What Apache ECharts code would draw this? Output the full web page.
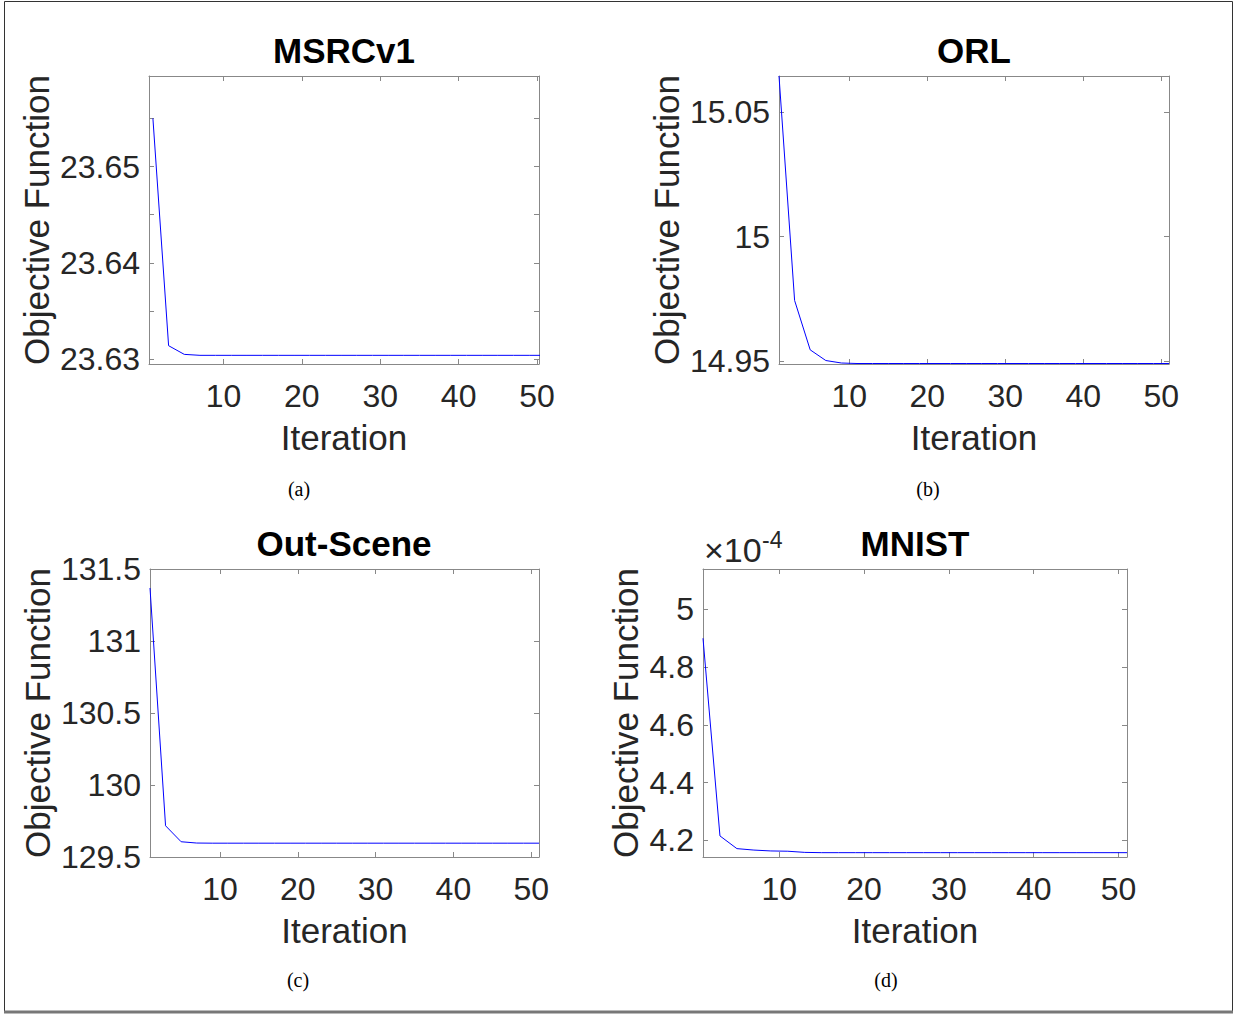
<!DOCTYPE html>
<html><head><meta charset="utf-8">
<script src="https://cdn.jsdelivr.net/npm/echarts@6/dist/echarts.min.js"></script>
<style>html,body{margin:0;padding:0;background:#fff}#c{width:1237px;height:1015px}</style>
</head><body><div id="c"></div>
<script>
// ---------- data ----------
const iterations = [1,3,5,7,9,11,13,15,17,19,21,23,25,27,29,31,33,35,37,39,41,43,45,47,49,51];
const xTickValues = [10,20,30,40,50];

const msrcValues = [23.6550,23.6314,23.6305,23.6304,23.6304,23.6304,23.6304,23.6304,23.6304,23.6304,
  23.6304,23.6304,23.6304,23.6304,23.6304,23.6304,23.6304,23.6304,23.6304,23.6304,
  23.6304,23.6304,23.6304,23.6304,23.6304,23.6304];
const orlValues = [15.0647,14.9743,14.9544,14.9501,14.9491,14.9489,14.9489,14.9489,14.9489,14.9489,
  14.9489,14.9489,14.9489,14.9489,14.9489,14.9489,14.9489,14.9489,14.9489,14.9489,
  14.9489,14.9489,14.9489,14.9489,14.9489,14.9489];
const outSceneValues = [131.368,129.717,129.606,129.597,129.596,129.596,129.596,129.596,129.596,129.596,
  129.596,129.596,129.596,129.596,129.596,129.596,129.596,129.596,129.596,129.596,
  129.596,129.596,129.596,129.596,129.596,129.596];
// MNIST values in units of 1e-4
const mnistValues = [4.900,4.215,4.171,4.166,4.163,4.162,4.158,4.157,4.157,4.157,
  4.157,4.157,4.157,4.157,4.157,4.157,4.157,4.157,4.157,4.157,
  4.157,4.157,4.157,4.157,4.157,4.157];

const msrcYTicks = [23.63,23.635,23.64,23.645,23.65,23.655];
const msrcYLabels = [23.63,23.64,23.65];
const orlYTicks = [14.95,15,15.05];
const outSceneYTicks = [129.5,130,130.5,131,131.5];
const mnistYTicks = [4.2,4.4,4.6,4.8,5];

const titles = ['MSRCv1','ORL','Out-Scene','MNIST'];
const captions = ['(a)','(b)','(c)','(d)'];

// ---------- layout ----------
const FONT = 'Liberation Sans, Arial, Helvetica, sans-serif';
const AX = '#888888';
const TXT = '#262626';
const panels = [
  {grid:{left:149,top:76,width:390,height:288}, xmin:0.5, xmax:50.25, ymin:23.6295, ymax:23.6594,
   yTicks:msrcYTicks, yLabels:msrcYLabels, fmt:v=>v.toFixed(2), values:msrcValues, yGap:95,
   title:[344,50], cap:[299,489]},
  {grid:{left:779,top:76,width:390,height:288}, xmin:1, xmax:51, ymin:14.9487, ymax:15.0647,
   yTicks:orlYTicks, yLabels:orlYTicks, fmt:v=>String(v), values:orlValues, yGap:95,
   title:[974,50], cap:[928,489]},
  {grid:{left:150,top:569,width:389,height:288}, xmin:1, xmax:51, ymin:129.5, ymax:131.5,
   yTicks:outSceneYTicks, yLabels:outSceneYTicks, fmt:v=>String(v), values:outSceneValues, yGap:95,
   title:[344,543], cap:[298,980]},
  {grid:{left:703,top:569,width:424,height:288}, xmin:1, xmax:51, ymin:4.142, ymax:5.14,
   yTicks:mnistYTicks, yLabels:mnistYTicks, fmt:v=>String(v), values:mnistValues, yGap:60,
   title:[915,543], cap:[886,980]}
];

const grid=[], xAxis=[], yAxis=[], series=[], graphic=[];
panels.forEach((p,i)=>{
  grid.push(Object.assign({containLabel:false}, p.grid));
  const line = {show:true,onZero:false,lineStyle:{color:AX,width:1}};
  const tick = (vals)=>({show:true,inside:true,length:5,customValues:vals,lineStyle:{color:AX,width:1}});
  xAxis.push({gridIndex:i,type:'value',position:'bottom',min:p.xmin,max:p.xmax,
    axisLine:line, axisTick:tick(xTickValues), splitLine:{show:false},
    axisLabel:{customValues:xTickValues,margin:16,fontSize:32,color:TXT,fontFamily:FONT},
    name:'Iteration',nameLocation:'middle',nameGap:56,
    nameTextStyle:{fontSize:35,color:TXT,fontFamily:FONT}});
  xAxis.push({gridIndex:i,type:'value',position:'top',min:p.xmin,max:p.xmax,
    axisLine:line, axisTick:tick(xTickValues), splitLine:{show:false}, axisLabel:{show:false}});
  yAxis.push({gridIndex:i,type:'value',position:'left',min:p.ymin,max:p.ymax,
    axisLine:line, axisTick:tick(p.yTicks), splitLine:{show:false},
    axisLabel:{customValues:p.yLabels,formatter:p.fmt,margin:9,fontSize:32,color:TXT,fontFamily:FONT},
    name:'Objective Function',nameLocation:'middle',nameGap:p.yGap,
    nameTextStyle:{fontSize:35,color:TXT,fontFamily:FONT}});
  yAxis.push({gridIndex:i,type:'value',position:'right',min:p.ymin,max:p.ymax,
    axisLine:line, axisTick:tick(p.yTicks), splitLine:{show:false}, axisLabel:{show:false}});
  series.push({type:'line',xAxisIndex:2*i,yAxisIndex:2*i,
    data:iterations.map((x,k)=>[x,p.values[k]]),
    symbol:'none',showSymbol:false,clip:true,
    lineStyle:{color:'#0000ff',width:1}});
  graphic.push({type:'text',x:p.title[0],y:p.title[1],silent:true,
    style:{text:titles[i],align:'center',verticalAlign:'middle',fontSize:35,fontWeight:'bold',fill:'#000',fontFamily:FONT}});
  graphic.push({type:'text',x:p.cap[0],y:p.cap[1],silent:true,
    style:{text:captions[i],align:'center',verticalAlign:'middle',fontSize:20,fill:'#000',fontFamily:'Liberation Serif, Times New Roman, serif'}});
});
// exponent label for MNIST
graphic.push({type:'text',x:704,y:550,silent:true,
  style:{text:'\u00d710',align:'left',verticalAlign:'middle',fontSize:34,fill:TXT,fontFamily:FONT}});
graphic.push({type:'text',x:762,y:540,silent:true,
  style:{text:'-4',align:'left',verticalAlign:'middle',fontSize:23,fill:TXT,fontFamily:FONT}});
// outer frame
graphic.push({type:'rect',silent:true,shape:{x:4.5,y:1.5,width:1228,height:1010},
  style:{fill:'none',stroke:'#333',lineWidth:1}});
graphic.push({type:'line',silent:true,shape:{x1:4,y1:1012,x2:1233,y2:1012},
  style:{stroke:'#777',lineWidth:3}});

const chart = echarts.init(document.getElementById('c'), null, {renderer:'svg'});
chart.setOption({animation:false,backgroundColor:'#fff',grid,xAxis,yAxis,series,graphic});
</script></body></html>
